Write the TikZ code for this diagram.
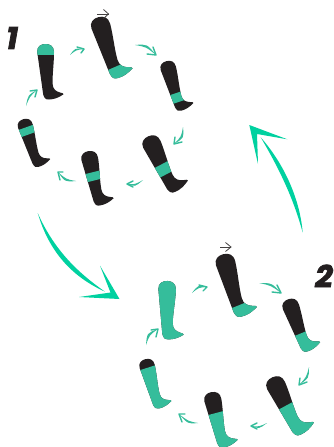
\documentclass[tikz,border=0pt]{standalone}
\usepackage{fontspec}
\setmainfont{Poppins}
\newfontfamily\heavyfont[BoldItalicFeatures={FakeBold=2.5}]{Poppins}
\usetikzlibrary{calc}
\definecolor{soft}{HTML}{35BD9B}
\definecolor{vivid}{HTML}{00D1A0}
\definecolor{ink}{HTML}{231F20}
\def\bootpath{(-8.8,8) .. controls (-9.2,2.5) and (-5,0) .. (-0.5,0) .. controls (4,0) and (7.8,2) .. (8,8) .. controls (8,20) and (6.3,30) .. (6.6,40) .. controls (6.9,45.5) and (10,47.3) .. (14,48.5) .. controls (16,49) and (18,49.3) .. (17.5,50.3) .. controls (13,53.5) and (8,55.5) .. (3,55.5) .. controls (-0.5,55.5) and (-1.5,54.5) .. (-2.8,50.5) -- cycle}
% x y rot scale y1 y2 slope
\newcommand{\boot}[7]{%
  \begin{scope}[shift={(#1,#2)},rotate=#3,scale=#4]
    \fill[ink] \bootpath;
    \begin{scope}
      \clip \bootpath;
      \fill[soft] (-30,#5+#7) -- (30,#5-#7) -- (30,#6-#7) -- (-30,#6+#7) -- cycle;
    \end{scope}
  \end{scope}}
% start control tip barb1 barb2
\newcommand{\swoosh}[5]{%
  \fill[soft] (#1) .. controls (#2) .. (#3) .. controls ($(#2)!0.5!($(#1)!0.5!(#3)$)$) .. (#1);
  \draw[soft,line width=1.4pt,line cap=round,line join=round] (#4) -- (#3) -- (#5);}
\begin{document}
\begin{tikzpicture}[x=1pt,y=-1pt,
  numeral/.style={font=\heavyfont\fontsize{31}{31}\selectfont\bfseries\itshape,text=ink,inner sep=0pt},
  bigarrow/.style={fill=vivid,draw=none},
  turn/.style={draw=ink!85,line width=.8pt}]
\useasboundingbox[fill=white] (0,0) rectangle (334,447);
% group 1
\boot{46}{44}{0}{1}{-5}{11}{0}
\boot{99}{17}{14}{1.15}{46}{70}{5}
\boot{167}{61}{13}{.93}{36}{46}{3}
\boot{149}{136}{22}{1.11}{28}{38}{3}
\boot{89}{151}{8.4}{1}{21.6}{30}{3}
\boot{24}{119}{14}{.9}{9.5}{18}{3}
% group 2
\boot{168}{281}{-3}{1.05}{-5}{70}{0}
\boot{224}{254}{12.6}{1.17}{46}{70}{5}
\boot{289}{299}{16.6}{1}{36.5}{70}{3}
\boot{273}{377}{22.6}{1.15}{27.4}{70}{3}
\boot{212}{392}{9}{1.02}{21}{70}{3}
\boot{146}{359}{12}{.92}{9.6}{70}{3}
% small arrows group 1
\swoosh{26,106}{28,95}{37,90}{30,91}{35,97}
\swoosh{70,55}{75,48}{84,49}{77,47}{81,53}
\swoosh{135,45}{147,44}{156,55}{147,54}{153,47}
\swoosh{183,127}{184,138}{174,144}{175,137}{182,142}
\swoosh{143,180}{135,187}{127,184}{133,181}{133,187}
\swoosh{76,181}{65,182}{58,172}{63,172}{60,180}
% small arrows group 2
\swoosh{146,345}{147,333}{158,329}{151,330}{156,337}
\swoosh{192,293}{198,285}{207,287}{199,285}{203,291}
\swoosh{259,283}{272,283}{281,293}{272,292}{277,285}
\swoosh{309,367}{309,378}{299,385}{300,378}{307,382}
\swoosh{267,423}{259,429}{251,426}{257,423}{257,429}
\swoosh{198,423}{188,424}{179,414}{185,414}{182,422}
% black direction arrows
\coordinate (t1) at (108.5,14);
\draw[turn] (97,14) -- (t1);
\draw[turn] (103.5,9.5) -- (t1) -- (103.5,18.5);
\coordinate (t2) at (231,247);
\draw[turn] (220,247) -- (t2);
\draw[turn] (225.5,242.5) -- (t2) -- (225.5,251.5);
% big arrows
\fill[bigarrow] (37.7,213) .. controls (50,255) and (75,278) .. (105,291.7) .. controls (80,274) and (55,252) .. cycle;
\fill[bigarrow] (100,265.7) -- (119.5,299) -- (79,297) -- (110.5,292.5) -- cycle;
\fill[bigarrow] (302.7,232.7) .. controls (300,200) and (285,165) .. (260.7,137.3) .. controls (280,170) and (294,200) .. cycle;
\fill[bigarrow] (287.3,139.3) -- (249.3,125) -- (258,164) -- (257,134) -- cycle;
% numerals
\node[numeral] (one) at (12,38) {1};
\node[numeral] (two) at (324,276) {2};
\end{tikzpicture}
\end{document}
